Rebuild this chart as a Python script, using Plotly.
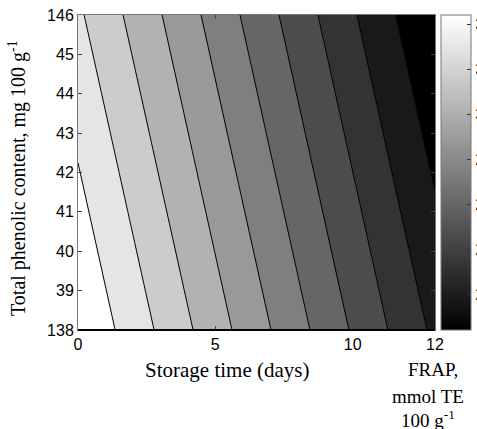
import plotly.graph_objects as go

# Data (FRAP response surface)
storage_days = [0, 2, 4, 6, 8, 10, 12, 13]
phenolic = [38, 42, 46]
frap = [
    [3.434, 3.255, 3.076, 2.897, 2.718, 2.539, 2.360, 2.271],
    [3.320, 3.141, 2.962, 2.783, 2.604, 2.425, 2.246, 2.157],
    [3.206, 3.027, 2.848, 2.669, 2.490, 2.311, 2.132, 2.043],
]
level_start = 2.170
level_end = 3.313
level_size = 0.127
cbar_min, cbar_max = 2.04, 3.44
cbar_ticks = [2.2, 2.4, 2.6, 2.8, 3.0, 3.2, 3.4]
x_tickvals = [0, 5, 10, 13]
x_ticktext = ["0", "5", "10", "12"]
y_tickvals = [38, 39, 40, 41, 42, 43, 44, 45, 46]
y_ticktext = ["138", "39", "40", "41", "42", "43", "44", "45", "146"]
cbar_title_lines = ["FRAP,", "mmol TE", "100 g<sup>-1</sup>"]

gray = [[0, "rgb(0,0,0)"], [1, "rgb(255,255,255)"]]
W, H = 477, 429
ml, mr, mt, mb = 78, 42, 15, 99
pw = W - ml - mr
ph = H - mt - mb


def px_x(px):
    return (px - ml) / pw


def px_y(py):
    return (H - mb - py) / ph


fig = go.Figure()
fig.add_trace(go.Contour(
    x=storage_days, y=phenolic, z=frap,
    colorscale=gray, showscale=False,
    contours=dict(start=level_start, end=level_end, size=level_size, coloring="fill"),
    line=dict(color="black", width=1),
    hoverinfo="skip",
))
cb_x0 = px_x(441)
fig.add_trace(go.Scatter(
    x=[0, 0], y=[38, 38], mode="markers", showlegend=False, hoverinfo="skip",
    marker=dict(size=1, opacity=0, color=[cbar_min, cbar_max], cmin=cbar_min, cmax=cbar_max,
                colorscale=gray, showscale=True,
                colorbar=dict(x=cb_x0, xanchor="left", xpad=0, ypad=0,
                              y=0.5, len=1, lenmode="fraction", thickness=30,
                              outlinecolor="#777", outlinewidth=1,
                              tickvals=cbar_ticks, ticks="inside", ticklen=4, tickcolor="#333",
                              tickfont=dict(family="Liberation Sans", size=16, color="black"))),
))

# left-side tick marks of the colour bar
for v in cbar_ticks:
    yy = (v - cbar_min) / (cbar_max - cbar_min)
    fig.add_shape(type="line", xref="paper", yref="paper", x0=cb_x0, x1=px_x(445), y0=yy, y1=yy,
                  line=dict(color="#333", width=1))

axis_common = dict(showgrid=False, zeroline=False, ticks="inside", ticklen=4, tickcolor="#444",
                   mirror="allticks", showline=True, linecolor="#777", linewidth=1,
                   tickfont=dict(family="Liberation Sans", size=16, color="black"))
fig.update_xaxes(range=[0, 13], tickvals=x_tickvals, ticktext=x_ticktext, **axis_common)
fig.update_yaxes(range=[38, 46], tickvals=y_tickvals, ticktext=y_ticktext, **axis_common)

# bottom axis drawn darker as in the reference
fig.add_shape(type="line", xref="paper", yref="paper", x0=0, x1=1, y0=0, y1=0,
              line=dict(color="black", width=2))

fig.add_annotation(xref="paper", yref="paper", x=px_x(227), y=px_y(370), xanchor="center", yanchor="middle",
                   showarrow=False, text="Storage time (days)",
                   font=dict(family="Liberation Serif", size=21, color="black"))
fig.add_annotation(xref="paper", yref="paper", x=px_x(18), y=px_y(178), xanchor="center", yanchor="middle",
                   showarrow=False, textangle=-90, text="Total phenolic content, mg 100 g<sup>-1</sup>",
                   font=dict(family="Liberation Serif", size=20, color="black"))
for line_text, cy, cx in zip(cbar_title_lines, [369, 396, 419], [433, 428, 428]):
    fig.add_annotation(xref="paper", yref="paper", x=px_x(cx), y=px_y(cy), xanchor="center", yanchor="middle",
                       showarrow=False, text=line_text,
                       font=dict(family="Liberation Serif", size=19, color="black"))

fig.update_layout(width=W, height=H, margin=dict(l=ml, r=mr, t=mt, b=mb, autoexpand=False),
                  paper_bgcolor="white", plot_bgcolor="white", showlegend=False)
fig.write_html("out.html")
